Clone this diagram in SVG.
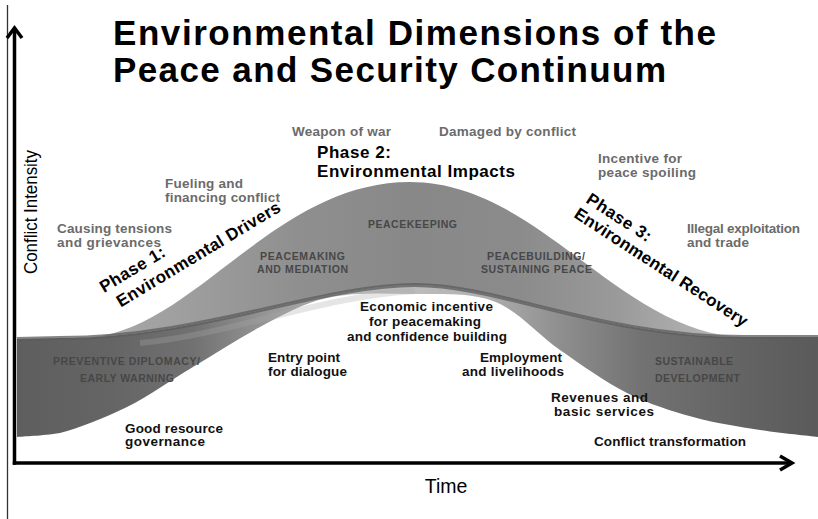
<svg xmlns="http://www.w3.org/2000/svg" width="818" height="519" viewBox="0 0 818 519">
<defs>
<style>
text{font-family:"Liberation Sans",Arial,sans-serif;}
.title{font-size:35px;font-weight:bold;fill:#000;}
.grey{font-size:13.5px;font-weight:bold;fill:#6b6b6b;}
.blk{font-size:13.5px;font-weight:bold;fill:#111;}
.phase{font-size:17px;font-weight:bold;fill:#000;}
.band{font-size:10.5px;font-weight:bold;fill:#474747;}
.axislbl{font-size:18.5px;fill:#000;}
.axis{stroke:#000;stroke-width:3.5;fill:none;stroke-linecap:square;}
.head{stroke:#000;stroke-width:3.5;fill:none;stroke-linejoin:miter;}
</style>
<linearGradient id="gLow" gradientUnits="userSpaceOnUse" x1="17" y1="0" x2="818" y2="0">
<stop offset="0" stop-color="#5e5e5e"/>
<stop offset="0.12" stop-color="#656565"/>
<stop offset="0.22" stop-color="#717171"/>
<stop offset="0.32" stop-color="#999999"/>
<stop offset="0.42" stop-color="#b4b4b4"/>
<stop offset="0.5" stop-color="#bcbcbc"/>
<stop offset="0.58" stop-color="#b0b0b0"/>
<stop offset="0.68" stop-color="#8e8e8e"/>
<stop offset="0.78" stop-color="#727272"/>
<stop offset="0.9" stop-color="#646464"/>
<stop offset="1" stop-color="#5a5a5a"/>
</linearGradient>
<linearGradient id="gArch" gradientUnits="userSpaceOnUse" x1="80" y1="0" x2="745" y2="0">
<stop offset="0" stop-color="#ababab"/>
<stop offset="0.15" stop-color="#9f9f9f"/>
<stop offset="0.33" stop-color="#8f8f8f"/>
<stop offset="0.5" stop-color="#888888"/>
<stop offset="0.66" stop-color="#8b8b8b"/>
<stop offset="0.81" stop-color="#9a9a9a"/>
<stop offset="0.93" stop-color="#b0b0b0"/>
<stop offset="1" stop-color="#c4c4c4"/>
</linearGradient>
</defs>

<rect x="0" y="0" width="818" height="519" fill="#fff"/>
<line x1="7.5" y1="5" x2="7.5" y2="519" stroke="#333" stroke-width="1.3"/>

<g id="bands">
<path id="lower-ribbon" fill="url(#gLow)" d="M17,437 C23.3,436.3 41.5,436 60,433 C78.5,428 104.8,418 127,407 C149.2,396 170.8,380.3 193,367 C215.2,353.7 237.7,338.7 260,327 C282.3,315.3 302,303.5 327,298 C352,292.5 382.3,293.5 410,294 C437.7,294.5 468,292 493,301 C518,310 537.7,334.5 560,350 C582.3,365.5 604.8,381.8 627,393 C649.2,404.2 670.8,410.8 693,417 C715.2,423.2 739.2,426.7 760,430 C780.8,433.3 808.3,435.8 818,437 L818,337 L745,337 C600,337 500,285 415,285 C320,285 200,338 60,338 L17,339 Z"/>
<path id="streak" d="M140,343 C230,335 320,296 415,291" fill="none" stroke="#a8a8a8" stroke-width="6" opacity="0.3"/>
<path id="arch" fill="url(#gArch)" d="M80,338 C190,338 270,182 410,182 C540,182 620,335 745,337 C600,337 500,285 415,285 C320,285 200,338 60,338 Z"/>
<path id="seam" d="M17,339 L60,338 C200,338 320,285 415,285 C500,285 600,337 745,337 L818,337" fill="none" stroke="#5c5c5c" stroke-width="4" opacity="0.75"/>
</g>

<g id="axes">
<line class="axis" x1="14.5" y1="463" x2="14.5" y2="30"/>
<polyline class="head" points="7,38 14.5,28 22,38"/>
<line class="axis" x1="14.5" y1="463" x2="790" y2="463"/>
<polyline class="head" points="780,456 792,463 780,470"/>
</g>

<g id="title">
<text class="title" x="113" y="45" textLength="603">Environmental Dimensions of the</text>
<text class="title" x="113" y="81.5" textLength="553">Peace and Security Continuum</text>
</g>

<g id="axis-labels">
<text class="axislbl" transform="translate(37,212) rotate(-90)" text-anchor="middle" textLength="124" lengthAdjust="spacingAndGlyphs">Conflict Intensity</text>
<text class="axislbl" x="446" y="493" text-anchor="middle" style="font-size:19.5px">Time</text>
</g>

<g id="band-labels">
<text class="band" x="53" y="365" textLength="147">PREVENTIVE DIPLOMACY/</text>
<text class="band" x="80" y="382" textLength="94">EARLY WARNING</text>
<text class="band" x="260" y="260" textLength="85">PEACEMAKING</text>
<text class="band" x="257" y="273" textLength="91">AND MEDIATION</text>
<text class="band" x="368" y="228" textLength="89">PEACEKEEPING</text>
<text class="band" x="487" y="260" textLength="98">PEACEBUILDING/</text>
<text class="band" x="481" y="273" textLength="111">SUSTAINING PEACE</text>
<text class="band" x="655" y="365" textLength="78">SUSTAINABLE</text>
<text class="band" x="655" y="382" textLength="85">DEVELOPMENT</text>
</g>

<g id="phase1" transform="translate(104,293) rotate(-31)">
<text class="phase" x="0" y="0" textLength="73">Phase 1:</text>
<text class="phase" x="7" y="21" textLength="188">Environmental Drivers</text>
</g>
<g id="phase2">
<text class="phase" x="317" y="157.5" textLength="74">Phase 2:</text>
<text class="phase" x="317" y="177" textLength="198">Environmental Impacts</text>
</g>
<g id="phase3" transform="translate(585,202) rotate(33)">
<text class="phase" x="0" y="0" textLength="74">Phase 3:</text>
<text class="phase" x="-2" y="19" textLength="203">Environmental Recovery</text>
</g>

<g id="impacts-grey">
<g id="weapon"><text class="grey" x="292" y="135.5" textLength="99">Weapon of war</text></g>
<g id="damaged"><text class="grey" x="439" y="135.5" textLength="137">Damaged by conflict</text></g>
<g id="fueling"><text class="grey" x="165" y="188" textLength="78">Fueling and</text>
<text class="grey" x="165" y="201.5" textLength="115">financing conflict</text></g>
<g id="causing"><text class="grey" x="57" y="233" textLength="115">Causing tensions</text>
<text class="grey" x="57" y="247" textLength="104">and grievances</text></g>
<g id="incentive"><text class="grey" x="598" y="163" textLength="84">Incentive for</text>
<text class="grey" x="598" y="177" textLength="98">peace spoiling</text></g>
<g id="illegal"><text class="grey" x="687" y="233" textLength="113">Illegal exploitation</text>
<text class="grey" x="687" y="247" textLength="62">and trade</text></g>
</g>

<g id="opportunities">
<g id="economic"><text class="blk" x="360" y="311" textLength="133">Economic incentive</text>
<text class="blk" x="369" y="325.5" textLength="112">for peacemaking</text>
<text class="blk" x="347" y="340.5" textLength="160">and confidence building</text></g>
<g id="entry"><text class="blk" x="268" y="362" textLength="72">Entry point</text>
<text class="blk" x="268" y="376" textLength="79">for dialogue</text></g>
<g id="employment"><text class="blk" x="480" y="361.5" textLength="82">Employment</text>
<text class="blk" x="462" y="376" textLength="102">and livelihoods</text></g>
<g id="revenues"><text class="blk" x="551" y="402" textLength="97">Revenues and</text>
<text class="blk" x="554" y="416" textLength="100">basic services</text></g>
<g id="transformation"><text class="blk" x="594" y="446" textLength="152">Conflict transformation</text></g>
<g id="governance"><text class="blk" x="125" y="432.5" textLength="98">Good resource</text>
<text class="blk" x="125" y="446" textLength="80">governance</text></g>
</g>
</svg>
